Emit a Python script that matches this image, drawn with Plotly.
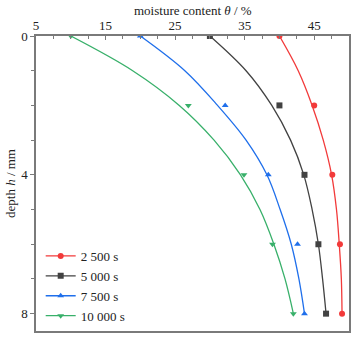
import plotly.graph_objects as go

# depth values
depth_meas = [0, 2, 4, 6, 8]
depth_fit = [0, 1, 2, 3, 4, 5, 6, 7, 8]

series_names = ["2 500 s", "5 000 s", "7 500 s", "10 000 s"]

# measured moisture content (%)
meas_2500 = [40.0, 45.0, 47.6, 48.7, 49.0]
meas_5000 = [30.0, 40.0, 43.6, 45.6, 46.7]
meas_7500 = [20.0, 32.2, 38.4, 42.6, 43.6]
meas_10000 = [10.0, 26.9, 34.9, 39.0, 42.0]

# fitted curves (%)
fit_2500 = [40.0, 42.7, 44.7, 46.3, 47.5, 48.2, 48.6, 48.9, 49.0]
fit_5000 = [30.0, 35.2, 38.9, 41.6, 43.5, 44.7, 45.6, 46.2, 46.7]
fit_7500 = [20.0, 26.4, 31.1, 35.2, 38.2, 40.1, 41.7, 42.8, 43.6]
fit_10000 = [10.0, 18.9, 25.6, 30.6, 34.4, 37.2, 39.2, 40.8, 42.0]

colors = ["#F23A3A", "#424242", "#1F6FEB", "#38B06A"]
symbols = ["circle", "square", "triangle-up", "triangle-down"]

meas = [meas_2500, meas_5000, meas_7500, meas_10000]
fits = [fit_2500, fit_5000, fit_7500, fit_10000]

fig = go.Figure()
for name, m, f, c, s in zip(series_names, meas, fits, colors, symbols):
    fig.add_trace(go.Scatter(x=f, y=depth_fit, mode="lines", line=dict(color=c, width=1.3, shape="spline"),
                             showlegend=False, hoverinfo="skip"))
    fig.add_trace(go.Scatter(x=m, y=depth_meas, mode="markers", marker=dict(color=c, symbol=s, size=6),
                             showlegend=False))
    fig.add_trace(go.Scatter(x=[None], y=[None], mode="lines+markers", name=name,
                             line=dict(color=c, width=1.3), marker=dict(color=c, symbol=s, size=6)))

axis_col = "#7a7a7a"
font_fam = "Liberation Serif"

fig.update_layout(
    width=358, height=340,
    margin=dict(l=36, r=9, t=36, b=9, autoexpand=False),
    paper_bgcolor="white", plot_bgcolor="white",
    font=dict(family=font_fam, size=13, color="#222"),
    xaxis=dict(
        side="top", range=[5, 50], tick0=5, dtick=10, automargin=False,
        ticks="inside", ticklen=4, tickwidth=1, tickcolor=axis_col,
        minor=dict(dtick=2.5, tick0=5, ticks="inside", ticklen=3, tickcolor=axis_col),
        showline=True, linecolor=axis_col, linewidth=1.5, mirror=True,
        showgrid=False, zeroline=False,
        tickfont=dict(size=13),
        ticklabelstandoff=-1,
    ),
    yaxis=dict(
        range=[8.5, 0], tickvals=[0, 4, 8], automargin=False,
        ticks="outside", ticklen=4, tickwidth=1, tickcolor=axis_col,
        minor=dict(dtick=1, tick0=0, ticks="outside", ticklen=3, tickcolor=axis_col),
        showline=True, linecolor=axis_col, linewidth=1.5, mirror=True,
        showgrid=False, zeroline=False,
        title=dict(text="depth <i>h</i> / mm", font=dict(size=13), standoff=3),
        tickfont=dict(size=13),
        ticklabelstandoff=0,
    ),
    legend=dict(x=0.015, y=0.0, xanchor="left", yanchor="bottom", bgcolor="rgba(0,0,0,0)",
                font=dict(size=13), tracegroupgap=0, itemwidth=30),
    annotations=[dict(text="moisture content <i>θ</i> / %", xref="paper", yref="paper",
                      x=0.5, y=1.086, xanchor="center", yanchor="middle", showarrow=False,
                      font=dict(size=13))],
)

fig.write_html("out.html")
